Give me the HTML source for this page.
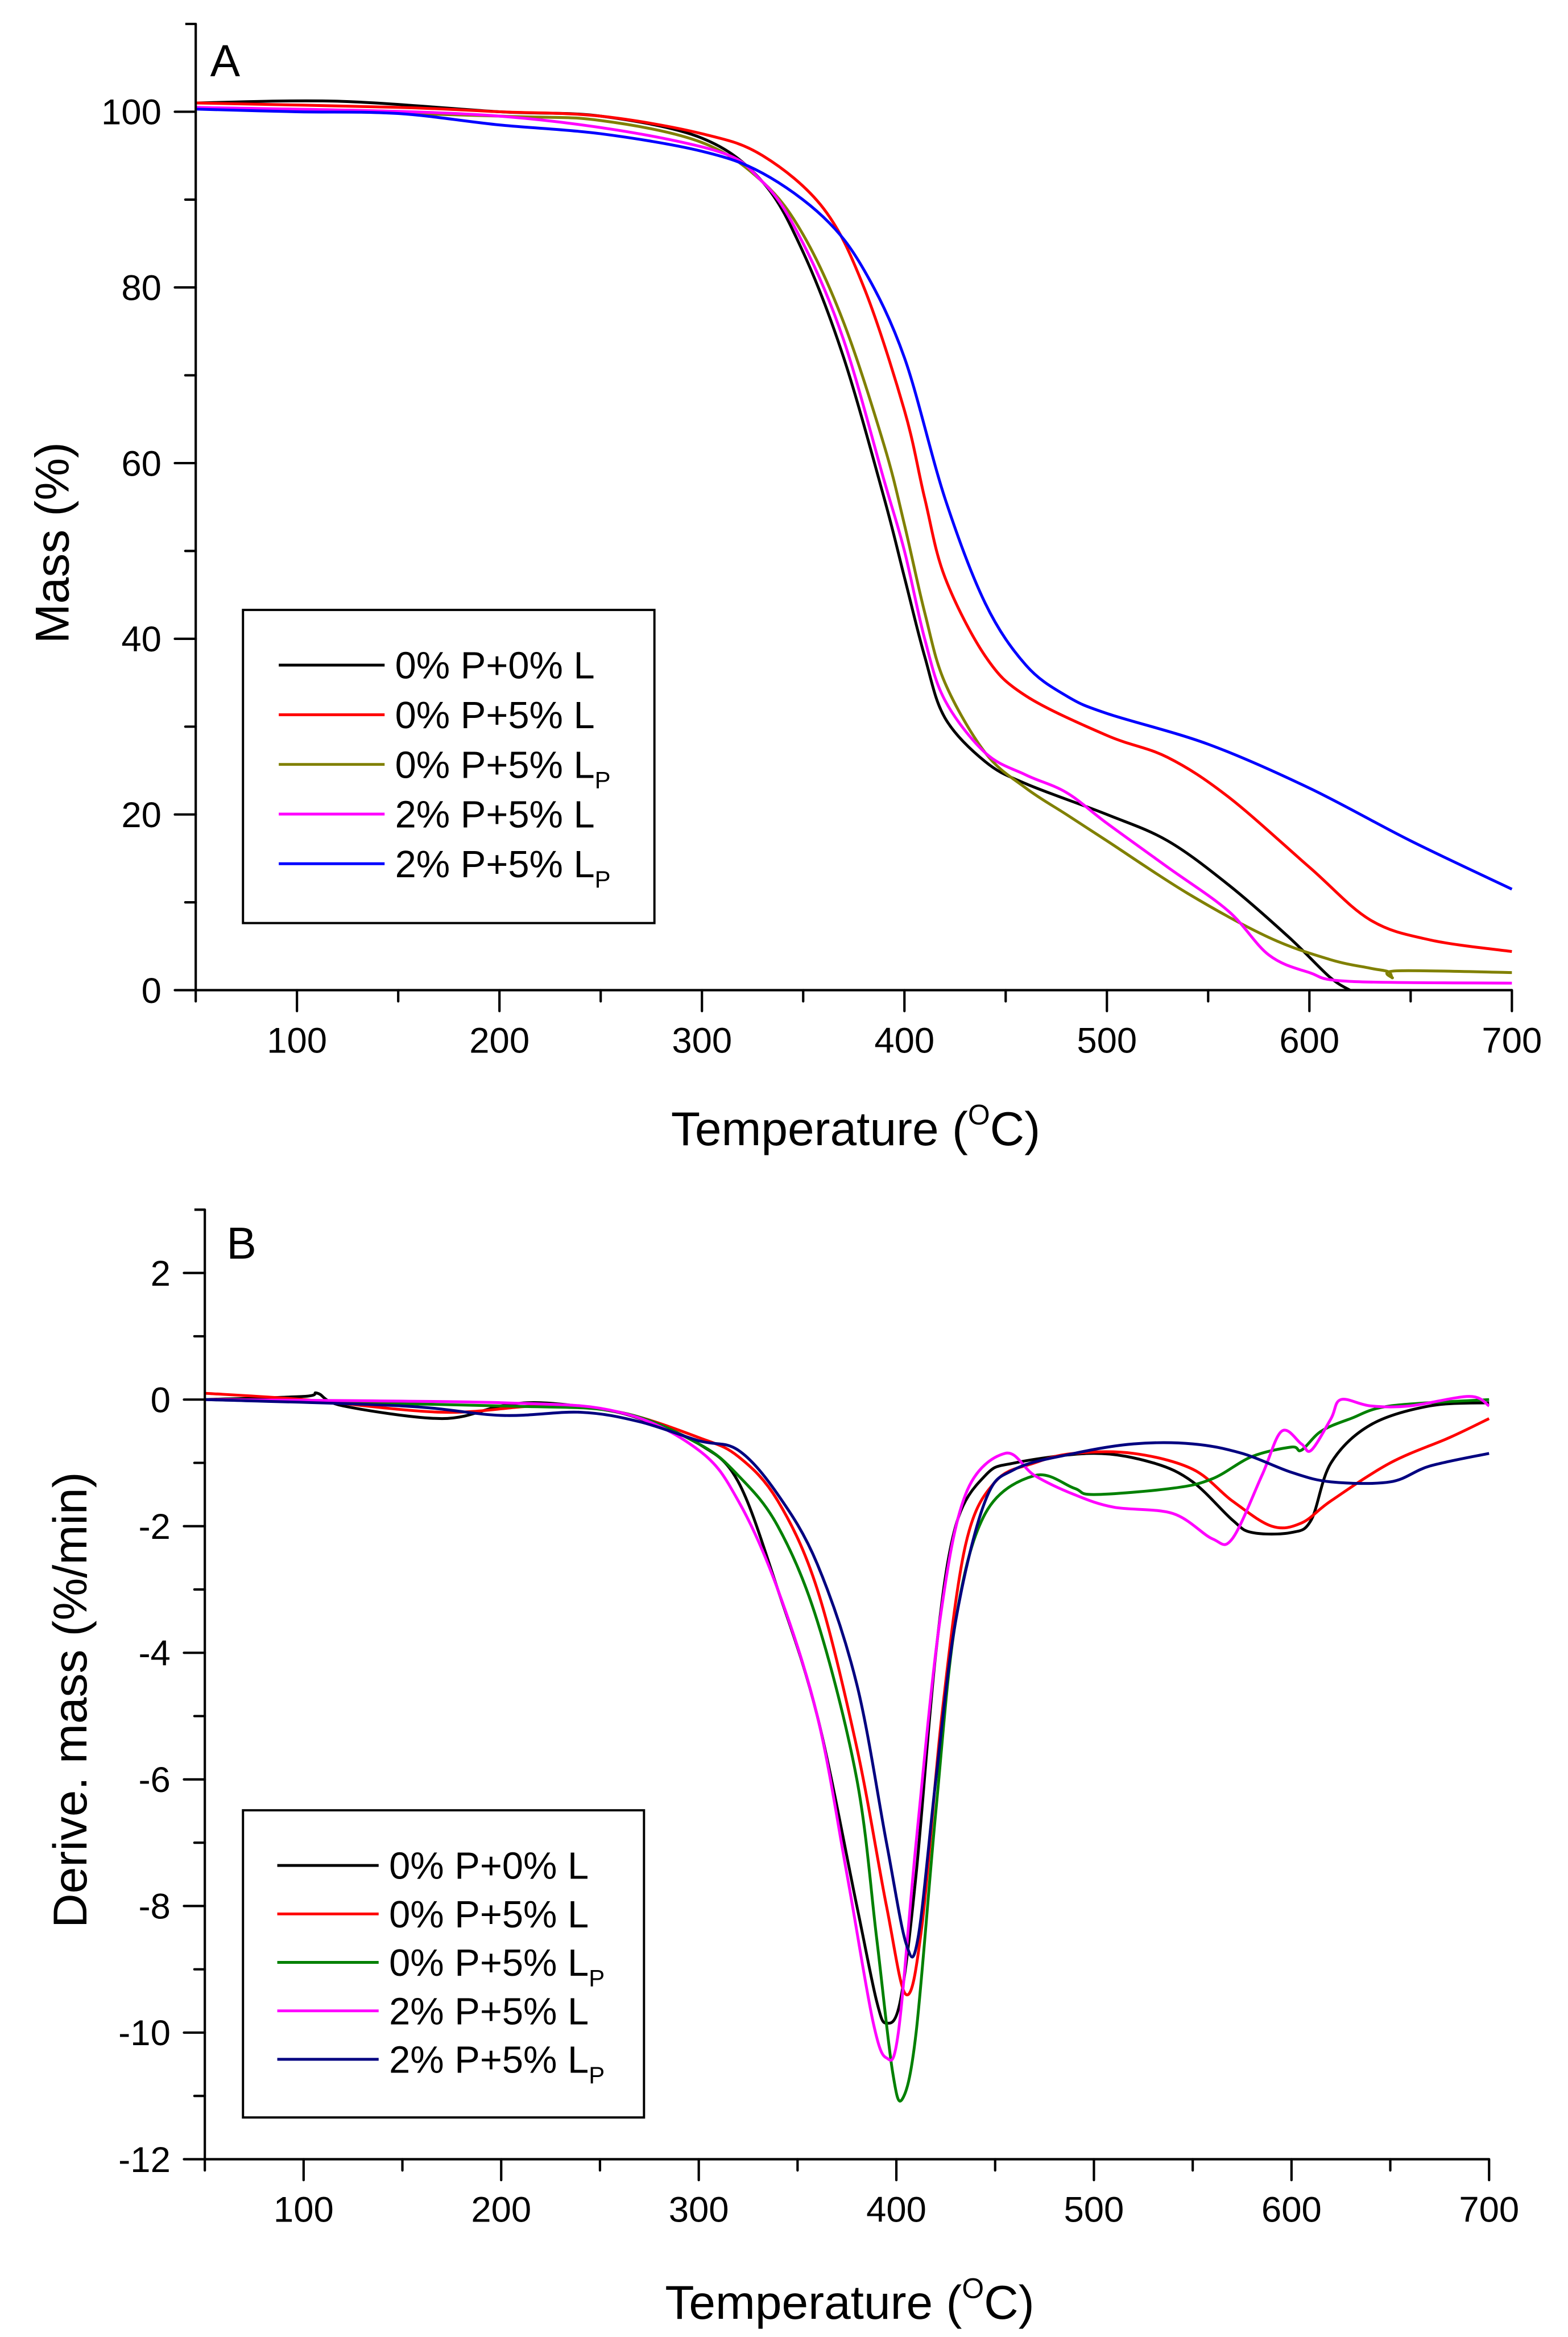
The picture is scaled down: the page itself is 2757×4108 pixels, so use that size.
<!DOCTYPE html>
<html><head><meta charset="utf-8"><style>
html,body{margin:0;padding:0;background:#fff}
svg{display:block}
text{font-family:"Liberation Sans",Arial,sans-serif;fill:#000}
</style></head><body>
<svg id="svg" width="2757" height="4108" viewBox="0 0 1045 1557" xmlns="http://www.w3.org/2000/svg">
<g transform="scale(0.9935)">
<g id="pa"></g>
<g id="pb"></g>
</g>
</svg>
<script>
const seriesNames=["0% P+0% L","0% P+5% L","0% P+5% LP","2% P+5% L","2% P+5% LP"];
const colorsA=["#000000","#ff0000","#808000","#ff00ff","#0000ff"];
const colorsB=["#000000","#ff0000","#008000","#ff00ff","#000080"];
const xTicks=[100,200,300,400,500,600,700];
const yTicksA=[0,20,40,60,80,100];
const yTicksB=[2,0,-2,-4,-6,-8,-10,-12];
const massBlack=[[50,101],[120,101.2],[200,100],[250,99.5],[300,97],[330,92],[350,84],[370,72],[390,56],[400,47],[410,38],[420,31],[440,26],[460,23.5],[500,20],[530,17],[560,12],[590,6],[610,1.5],[620,0]];
const massRed=[[50,101],[150,100.5],[200,100],[250,99.5],[300,97.5],[330,95],[360,89],[380,80],[400,66],[410,56],[420,47],[440,38],[460,33.5],[500,29],[530,26.5],[560,22],[600,14],[630,8],[660,5.7],[700,4.4]];
const massOlive=[[50,100.5],[200,99.5],[250,99],[300,96.5],[330,92],[350,86],[370,76],[390,62],[400,53],[410,43],[420,35],[440,27],[460,23],[480,20],[500,17],[540,11],[580,6],[610,3.5],[630,2.5],[639,2.1],[641,1.4],[643,2.2],[700,2]];
const massMagenta=[[50,100.5],[200,99.5],[300,96],[330,92],[350,85],[370,74],[390,58],[400,50],[410,40],[420,33],[440,27],[460,24.5],[480,22.5],[500,19],[530,14],[560,9],[580,4],[600,2],[620,1],[700,0.8]];
const massBlue=[[50,100.3],[100,100],[150,99.8],[200,98.5],[250,97.5],[300,95.5],[330,93],[360,88],[380,82],[400,72],[420,56],[440,44],[460,37],[480,33.5],[500,31.5],[550,28],[600,23],[650,17],[700,11.5]];
const dtgBlack=[[50,0],[100,0.05],[107,0.1],[120,-0.1],[170,-0.3],[200,-0.1],[220,-0.05],[250,-0.15],[270,-0.3],[300,-0.7],[320,-1.3],[340,-3],[360,-5],[380,-8],[390,-9.5],[395,-9.85],[402,-9.5],[410,-7.5],[420,-4],[430,-2],[445,-1.2],[460,-1],[500,-0.85],[530,-1.0],[550,-1.3],[570,-1.9],[580,-2.1],[600,-2.1],[610,-1.9],[620,-1],[640,-0.4],[670,-0.1],[700,-0.05]];
const dtgRed=[[50,0.1],[100,0],[170,-0.2],[220,-0.1],[260,-0.2],[300,-0.6],[320,-0.9],[340,-1.6],[360,-3],[380,-5.5],[395,-8],[405,-9.4],[413,-8.3],[423,-5],[435,-2.3],[450,-1.3],[470,-1.0],[490,-0.85],[520,-0.85],[550,-1.1],[570,-1.6],[590,-2],[605,-1.95],[620,-1.6],[650,-1],[680,-0.6],[700,-0.3]];
const dtgGreen=[[50,0],[200,-0.1],[260,-0.2],[300,-0.7],[320,-1.2],[340,-2],[360,-3.5],[380,-6],[390,-8.5],[398,-10.6],[403,-11.05],[410,-10],[420,-6.5],[430,-3.5],[445,-1.8],[470,-1.2],[490,-1.4],[500,-1.5],[540,-1.4],[560,-1.25],[580,-0.9],[600,-0.75],[605,-0.8],[615,-0.5],[630,-0.3],[650,-0.1],[700,0]];
const dtgMagenta=[[50,0],[200,-0.05],[260,-0.2],[300,-0.8],[320,-1.6],[340,-3],[360,-5],[375,-7.5],[388,-9.8],[395,-10.4],[401,-10],[410,-7],[422,-3.5],[435,-1.5],[455,-0.85],[470,-1.2],[490,-1.5],[510,-1.7],[540,-1.8],[560,-2.2],[570,-2.2],[585,-1.2],[595,-0.5],[605,-0.7],[610,-0.8],[620,-0.3],[625,0],[640,-0.1],[660,-0.1],[690,0.05],[700,-0.1]];
const dtgNavy=[[50,0],[150,-0.1],[200,-0.25],[240,-0.2],[270,-0.35],[300,-0.65],[320,-0.8],[340,-1.5],[360,-2.6],[380,-4.5],[395,-7],[405,-8.6],[411,-8.5],[420,-6],[430,-3.5],[445,-1.6],[460,-1.1],[490,-0.85],[520,-0.7],[550,-0.7],[575,-0.85],[600,-1.15],[620,-1.3],[650,-1.3],[670,-1.05],[700,-0.85]];

const NS="http://www.w3.org/2000/svg";
function mk(parent,tag,attrs,txt){const e=document.createElementNS(NS,tag);for(const k in attrs)e.setAttribute(k,attrs[k]);if(txt!==undefined)e.textContent=txt;parent.appendChild(e);return e;}
function smooth(pts){
  let d='M'+pts[0][0].toFixed(2)+','+pts[0][1].toFixed(2);
  for(let i=0;i<pts.length-1;i++){
    const p0=pts[i-1]||pts[i],p1=pts[i],p2=pts[i+1],p3=pts[i+2]||p2;
    const c1=[p1[0]+(p2[0]-p0[0])/6,p1[1]+(p2[1]-p0[1])/6];
    const c2=[p2[0]-(p3[0]-p1[0])/6,p2[1]-(p3[1]-p1[1])/6];
    d+=`C${c1[0].toFixed(2)},${c1[1].toFixed(2)} ${c2[0].toFixed(2)},${c2[1].toFixed(2)} ${p2[0].toFixed(2)},${p2[1].toFixed(2)}`;
  }
  return d;
}
function panel(g,cfg){
  const sx=v=>cfg.x0+(v-cfg.xmin)/(cfg.xmax-cfg.xmin)*(cfg.x1-cfg.x0);
  const sy=v=>cfg.y1-(v-cfg.ymin)/(cfg.ymax-cfg.ymin)*(cfg.y1-cfg.y0);
  cfg.series.forEach((s,i)=>{
    const p=mk(g,'path',{d:smooth(s.map(d=>[sx(d[0]),sy(d[1])])),fill:'none',stroke:cfg.colors[i],'stroke-width':1.9,'stroke-linejoin':'round'});
    
    
  });
  const ax=mk(g,'path',{d:`M${cfg.x0-7},${cfg.y0}H${cfg.x0}V${cfg.y1}H${cfg.x1}`,fill:'none',stroke:'#000','stroke-width':1.6,'stroke-linejoin':'round'});
  
  
  for(let v=cfg.xmin;v<=cfg.xmax;v+=50){
    const major=v%100===0;
    mk(g,'line',{x1:sx(v),x2:sx(v),y1:cfg.y1,y2:cfg.y1+(major?14:7.5),stroke:'#000','stroke-width':1.6,'stroke-linecap':'round'});
  }
  xTicks.forEach(v=>{
    const t=mk(g,'text',{x:sx(v),y:cfg.y1+42,'text-anchor':'middle','font-size':24.2},String(v));
    
    
  });
  cfg.yTicks.forEach(v=>{
    mk(g,'line',{x1:cfg.x0-14,x2:cfg.x0,y1:sy(v),y2:sy(v),stroke:'#000','stroke-width':1.6,'stroke-linecap':'round'});
    const m=v+cfg.yStep/2; if(m<cfg.ymax) mk(g,'line',{x1:cfg.x0-7,x2:cfg.x0,y1:sy(m),y2:sy(m),stroke:'#000','stroke-width':1.6,'stroke-linecap':'round'});
    const t=mk(g,'text',{x:cfg.x0-23,y:sy(v)+8.5,'text-anchor':'end','font-size':24.2},String(v));
    
    
  });
  const xt=mk(g,'text',{x:cfg.xtx,y:cfg.y1+cfg.xtdy,'text-anchor':'middle','font-size':32});
  xt.innerHTML='Temperature (<tspan font-size="19" dy="-14">O</tspan><tspan dy="14">C)</tspan>';
  
  
  const yt=mk(g,'text',{x:0,y:0,'text-anchor':'middle','font-size':32,transform:`translate(${cfg.ytx},${cfg.yty}) rotate(-90)`},cfg.ytitle);
  
  
  const pl=mk(g,'text',{x:cfg.lx,y:cfg.ly,'font-size':30},cfg.label);
  
  
  const L=cfg.leg;
  const lg=mk(g,'g',{});
  
  
  mk(lg,'rect',{x:L.x,y:L.y,width:L.w,height:L.h,fill:'#fff',stroke:'#000','stroke-width':1.5});
  seriesNames.forEach((n,i)=>{
    const yy=L.ey+i*L.dy;
    const e=mk(lg,'g',{});
    
    
    mk(e,'line',{x1:L.lx1,x2:L.lx2,y1:yy,y2:yy,stroke:cfg.colors[i],'stroke-width':1.9});
    const t=mk(e,'text',{x:L.tx,y:yy+9,'font-size':25.5});
    if(n.endsWith('LP')) t.innerHTML=n.slice(0,-1)+'<tspan font-size="16" dy="7">P</tspan>'; else t.textContent=n;
  });
}
panel(document.getElementById('pa'),{x0:131.3,x1:1014.2,y0:16,y1:664,xmin:50,xmax:700,ymin:0,ymax:110,yTicks:yTicksA,yStep:20,
  series:[massBlack,massRed,massOlive,massMagenta,massBlue],colors:colorsA,ytitle:'Mass (%)',ytx:46,yty:364,label:'A',lx:141,ly:51,
  xtx:574,xtdy:104,
  leg:{x:163,y:409,w:276,h:210,ey:446,dy:33.3,lx1:187,lx2:258,tx:265}});
panel(document.getElementById('pb'),{x0:137.4,x1:998.9,y0:811.2,y1:1448,xmin:50,xmax:700,ymin:-12,ymax:3,yTicks:yTicksB,yStep:2,
  series:[dtgBlack,dtgRed,dtgGreen,dtgMagenta,dtgNavy],colors:colorsB,ytitle:'Derive. mass (%/min)',ytx:58,yty:1140,label:'B',lx:152,ly:844,
  xtx:570,xtdy:107,
  leg:{x:163,y:1214,w:269,h:206,ey:1251,dy:32.5,lx1:186,lx2:254,tx:261}});
</script>
</body></html>
